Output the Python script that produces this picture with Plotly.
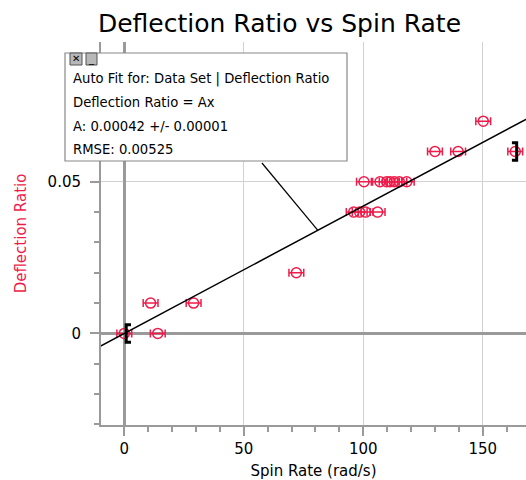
import plotly.graph_objects as go

# ---- data ----
spin_rate = [0, 14, 11, 29, 72, 96, 98.5, 101, 106, 100.3, 107, 109.8, 111.2, 113, 115.1, 118.2, 130, 139.7, 163.6, 150.2]
deflection = [0, 0, 0.01, 0.01, 0.02, 0.04, 0.04, 0.04, 0.04, 0.05, 0.05, 0.05, 0.05, 0.05, 0.05, 0.05, 0.06, 0.06, 0.06, 0.07]
spin_err = 3.1
fit_A = 0.00042
fit_range = [0.8, 164.2]
fit_range_y = [0, 0.06]
x_range = [-9.75, 168.1]
y_range = [-0.0302, 0.0961]
fit_lines = [
    "Auto Fit for: Data Set | Deflection Ratio",
    "Deflection Ratio = Ax",
    "A: 0.00042 +/- 0.00001",
    "RMSE: 0.00525",
]

RED = "#ee1c4a"
GRAY = "#9a9a9a"
FONT = "DejaVu Sans"

fig = go.Figure()

# data points
fig.add_trace(go.Scatter(
    x=spin_rate, y=deflection, mode="markers",
    marker=dict(symbol="circle-open", size=10, color=RED, line=dict(width=1.5, color=RED)),
    error_x=dict(type="constant", value=spin_err, color=RED, thickness=1.5, width=4),
    showlegend=False, hoverinfo="x+y",
))

# fit line
fx = [x_range[0] - 1, x_range[1] + 1]
fig.add_trace(go.Scatter(
    x=fx, y=[fit_A * v for v in fx], mode="lines",
    line=dict(color="black", width=1.5), showlegend=False, hoverinfo="skip",
))

# fit range brackets
bw, bh = 2.0, 0.0029
x0, x1 = fit_range
y0, y1 = fit_range_y
fig.add_trace(go.Scatter(
    x=[x0 + bw, x0, x0, x0 + bw, None, x1 - bw, x1, x1, x1 - bw],
    y=[y0 + bh, y0 + bh, y0 - bh, y0 - bh, None, y1 + bh, y1 + bh, y1 - bh, y1 - bh],
    mode="lines", line=dict(color="black", width=3), showlegend=False, hoverinfo="skip",
))

# leader line from box to fit line
fig.add_shape(type="line", xref="x", yref="y", x0=57.6, y0=0.0562, x1=81, y1=fit_A * 81,
              line=dict(color="black", width=1.2))

# annotation box (paper coords)
W, H = 526, 480
L, R, T, B = 101, 526, 42, 425
def px(xp):
    return (xp - L) / (R - L)
def py(yp):
    return 1 - (yp - T) / (B - T)

fig.add_shape(type="rect", xref="paper", yref="paper",
              x0=px(65), x1=px(347), y0=py(161), y1=py(53),
              fillcolor="white", line=dict(color="#888888", width=1.2), layer="above")
# window buttons
for bx0, bx1, label in [(70, 82, "✕"), (86, 97, "_")]:
    fig.add_shape(type="rect", xref="paper", yref="paper",
                  x0=px(bx0), x1=px(bx1), y0=py(65), y1=py(53),
                  fillcolor="#b8b8b8", line=dict(color="#555555", width=1), layer="above")
    fig.add_annotation(xref="paper", yref="paper", x=px((bx0 + bx1) / 2), y=py(58.5),
                       text=label, showarrow=False, font=dict(family=FONT, size=10, color="black"),
                       xanchor="center", yanchor="middle")

for i, line in enumerate(fit_lines):
    fig.add_annotation(xref="paper", yref="paper", x=px(71), y=py(79 + i * 23.5),
                       text=line, showarrow=False, xanchor="left", yanchor="middle",
                       font=dict(family=FONT, size=13.2, color="black"))

axis_common = dict(
    showline=True, linecolor=GRAY, linewidth=2, mirror=False,
    ticks="outside", ticklen=9, tickwidth=2, tickcolor=GRAY,
    showgrid=True, gridcolor="#d2d2d2", gridwidth=1,
    zeroline=True, zerolinecolor=GRAY, zerolinewidth=3,
    tickfont=dict(family=FONT, size=15, color="black"),
)

fig.update_layout(
    width=W, height=H,
    margin=dict(l=L, r=W - R, t=T, b=H - B),
    paper_bgcolor="white", plot_bgcolor="white",
    font=dict(family=FONT),
    title=dict(text="Deflection Ratio vs Spin Rate", x=279.5 / W, xanchor="center",
               y=1 - 23 / H, yanchor="middle", yref="container",
               font=dict(family=FONT, size=25, color="black")),
    xaxis=dict(range=x_range, tick0=0, dtick=50,
               minor=dict(dtick=10, ticks="outside", ticklen=5, tickwidth=2, tickcolor=GRAY, showgrid=False),
               title=dict(text="Spin Rate (rad/s)", font=dict(family=FONT, size=15, color="black"), standoff=8),
               **axis_common),
    yaxis=dict(range=y_range, tick0=0, dtick=0.05,
               minor=dict(dtick=0.01, ticks="outside", ticklen=5, tickwidth=2, tickcolor=GRAY, showgrid=False),
               title=dict(text="Deflection Ratio", font=dict(family=FONT, size=15, color=RED), standoff=17),
               ticklabelstandoff=6,
               **axis_common),
)

fig.write_html("out.html", config={"displayModeBar": False},
               post_script="document.body.style.margin='0';document.body.style.overflow='hidden';")
